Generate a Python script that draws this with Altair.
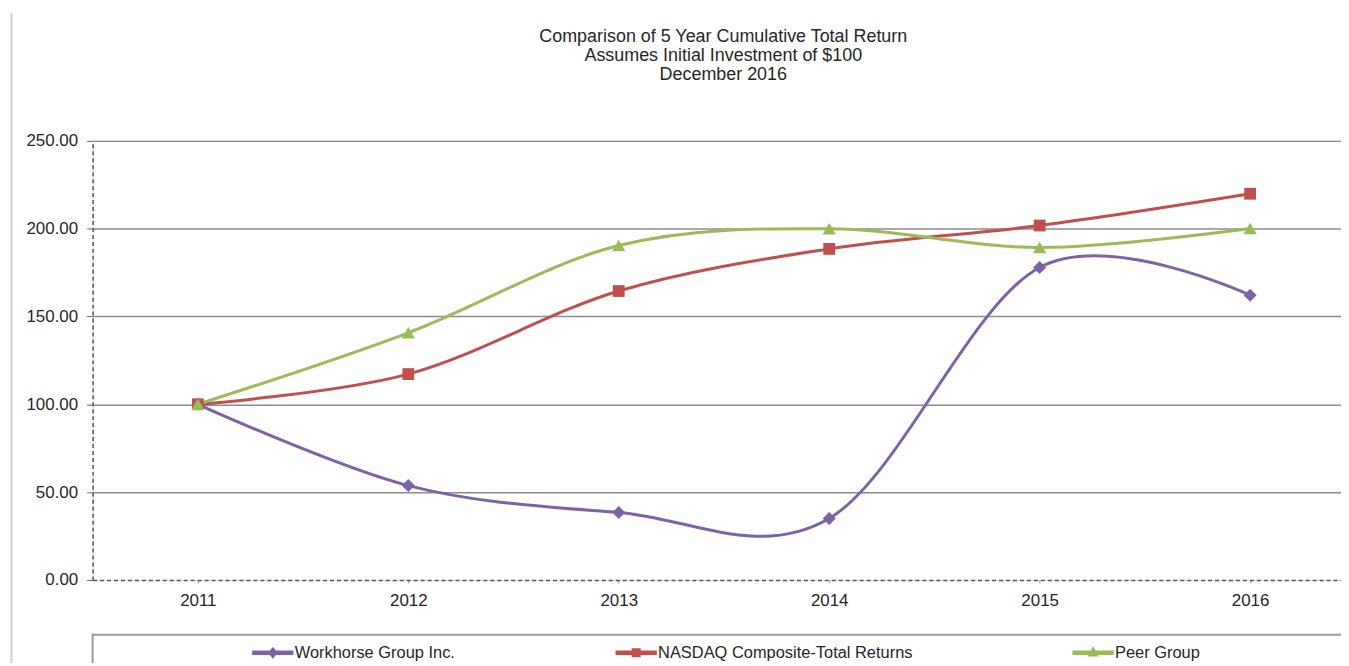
import altair as alt
import pandas as pd

# ---- data ----
years = [2011, 2012, 2013, 2014, 2015, 2016]
series_names = ["Workhorse Group Inc.", "NASDAQ Composite-Total Returns", "Peer Group"]
workhorse = [100.0, 53.7, 38.4, 35.0, 177.9, 162.1]
nasdaq = [100.0, 117.2, 164.5, 188.5, 201.8, 219.9]
peer = [100.0, 140.7, 190.4, 200.0, 189.3, 200.1]
y_ticks = [0, 50, 100, 150, 200, 250]
title_lines = [
    "Comparison of 5 Year Cumulative Total Return",
    "Assumes Initial Investment of $100",
    "December 2016",
]

# ---- styling ----
colors = ["#7E62A6", "#C0504D", "#9BBB59"]
marker_shapes = ["diamond", "square", "triangle-up"]
marker_sizes = [170, 140, 180]
bar = "M-1,-0.075L1,-0.075L1,0.075L-1,0.075Z"
legend_paths = [
    bar + "M0,-0.24L0.2,0L0,0.24L-0.2,0Z",
    bar + "M-0.19,-0.19L0.19,-0.19L0.19,0.19L-0.19,0.19Z",
    bar + "M0,-0.25L0.22,0.15L-0.22,0.15Z",
]
FONT = "Liberation Sans"
TXT = "#262626"

rows = []
for name, vals in zip(series_names, [workhorse, nasdaq, peer]):
    for yr, v in zip(years, vals):
        rows.append({"year": yr, "value": v, "series": name})
df = pd.DataFrame(rows)

W = 1254
H = 441
PX_PER_YEAR = 211.4

x_enc = alt.X(
    "year:Q",
    scale=alt.Scale(domain=[2010.5, 2010.5 + W / PX_PER_YEAR], nice=False, zero=False),
    axis=alt.Axis(
        values=years, format="d", title=None, grid=False,
        domainDash=[4, 3], domainColor="#555555", domainWidth=1.5,
        tickSize=3, tickColor="#888888",
        labelFontSize=17, labelPadding=10, labelColor=TXT, labelFont=FONT,
    ),
)
y_enc = alt.Y(
    "value:Q",
    scale=alt.Scale(domain=[0, 250], nice=False),
    axis=alt.Axis(
        values=y_ticks, format=".2f", title=None, grid=True,
        gridColor="#8c8c8c", gridWidth=1.5,
        gridOpacity={"condition": {"test": "datum.value === 0", "value": 0}, "value": 1},
        domainDash=[4, 3], domainColor="#555555", domainWidth=1.5,
        tickSize=6, tickColor="#666666",
        labelFontSize=17, labelPadding=9, labelColor=TXT, labelFont=FONT,
    ),
)
color_scale = alt.Scale(domain=series_names, range=colors)

base = alt.Chart(df)

leg = alt.Legend(
    title=None, orient="none", legendX=160, legendY=493,
    direction="horizontal", columns=3, columnPadding=158,
    symbolSize=1600, labelFontSize=16.5, labelFont=FONT, labelColor=TXT,
    labelLimit=600, labelOffset=1, padding=0,
)
# legend-only layer (draws no marks; its legend carries the line+marker symbols)
legend_layer = base.transform_filter("false").mark_point(filled=True, opacity=1).encode(
    x=x_enc, y=y_enc,
    color=alt.Color("series:N", scale=color_scale, legend=leg),
    shape=alt.Shape("series:N", scale=alt.Scale(domain=series_names, range=legend_paths), legend=leg),
)

lines = base.mark_line(interpolate="cardinal", strokeWidth=3).encode(
    x=x_enc, y=y_enc,
    color=alt.Color("series:N", scale=color_scale),
)

point_layers = []
for name, shp, sz in zip(series_names, marker_shapes, marker_sizes):
    point_layers.append(
        base.transform_filter(alt.datum.series == name)
        .mark_point(filled=True, shape=shp, size=sz, opacity=1)
        .encode(x=x_enc, y=y_enc,
                color=alt.Color("series:N", scale=color_scale))
    )

one = alt.Data(values=[{"k": 1}])
legend_box = alt.Chart(one).mark_rect(fillOpacity=0, stroke="#9a9a9a", strokeWidth=2).encode(
    x=alt.value(0), x2=alt.value(W + 30), y=alt.value(496), y2=alt.value(H + 160),
)
frame_line = alt.Chart(one).mark_rule(color="#cdcdcd", strokeWidth=2).encode(
    x=alt.value(-81.5), y=alt.value(-128), y2=alt.value(H + 160),
)

chart = alt.layer(legend_layer, lines, *point_layers, legend_box, frame_line).properties(
    width=W, height=H,
    autosize=alt.AutoSizeParams(type="none"),
    padding={"left": 85, "top": 132, "right": 0, "bottom": 82},
    title=alt.TitleParams(
        text=title_lines, fontSize=18, font=FONT, fontWeight="normal", color=TXT,
        lineHeight=19.3, anchor="middle", dx=6.5, offset=-72,
    ),
).configure_view(strokeWidth=0).configure(background="white")

chart.save("out.html", embed_options={"renderer": "svg", "actions": False})
